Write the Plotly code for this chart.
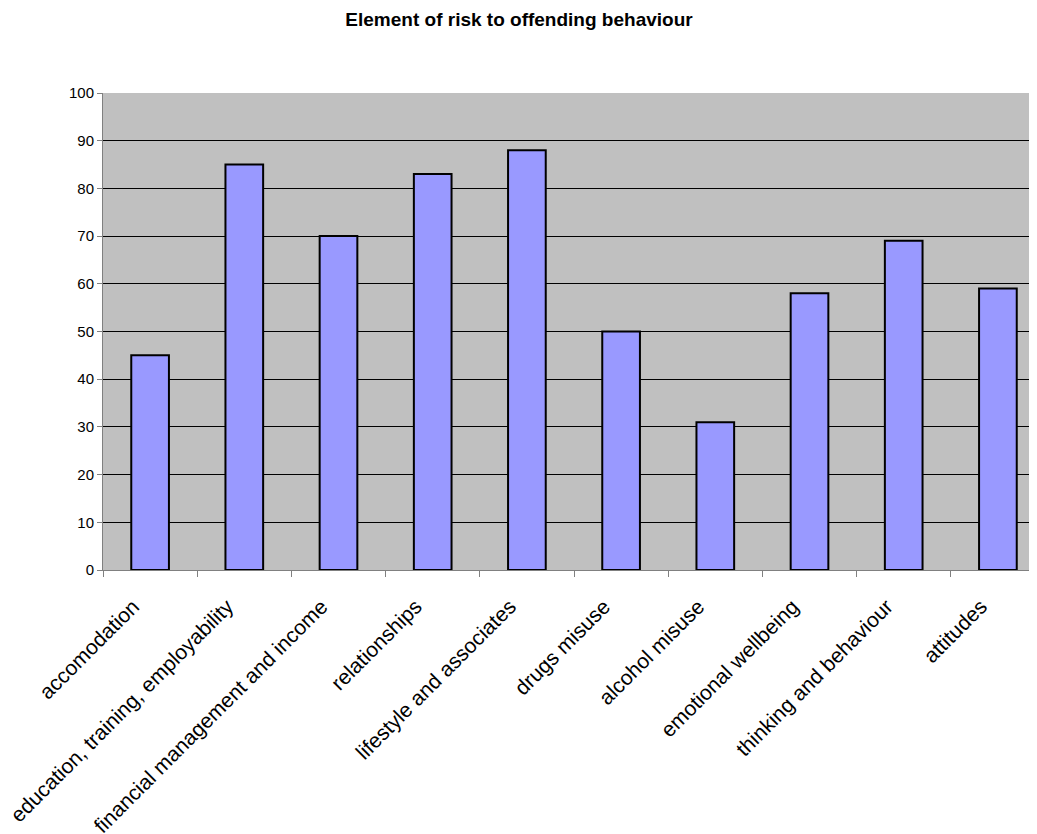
import plotly.graph_objects as go

categories = ["accomodation", "education, training, employability", "financial management and income",
              "relationships", "lifestyle and associates", "drugs misuse", "alcohol misuse",
              "emotional wellbeing", "thinking and behaviour", "attitudes"]
values = [45, 85, 70, 83, 88, 50, 31, 58, 69, 59]
y_ticks = [0, 10, 20, 30, 40, 50, 60, 70, 80, 90, 100]

# page body has an 8px default margin, so the figure is sized/offset to compensate
W, H = 1029, 826

fig = go.Figure(go.Bar(
    x=categories, y=values, width=0.4,
    marker=dict(color="#9999FF", line=dict(color="black", width=2)),
))

fig.update_layout(
    width=W, height=H,
    paper_bgcolor="white", plot_bgcolor="#C0C0C0",
    margin=dict(l=95, r=0, t=85, b=264),
    font=dict(family="Liberation Sans, Arial", size=15, color="black"),
    title=dict(text="<b>Element of risk to offending behaviour</b>", x=(519 - 8) / W, xref="container",
               xanchor="center", y=1 - 11 / H, yref="container", yanchor="middle", font=dict(size=19)),
    showlegend=False,
    bargap=0.6,
)
fig.update_xaxes(
    type="category", range=[-0.5, 9.415], tickangle=-45, automargin=False,
    showline=True, linecolor="#808080", linewidth=1,
    ticks="outside", tickson="boundaries", ticklen=6, tickcolor="#808080",
    showgrid=False, tickfont=dict(size=21),
    ticklabelshift=-17, ticklabelstandoff=15,
)
fig.update_yaxes(
    range=[0, 100], tickvals=y_ticks, automargin=False,
    showline=True, linecolor="#808080", linewidth=1,
    ticks="outside", ticklen=5, tickcolor="#808080",
    showgrid=True, gridcolor="black", gridwidth=1, zeroline=False,
    tickfont=dict(size=15),
)

fig.write_html("out.html")
